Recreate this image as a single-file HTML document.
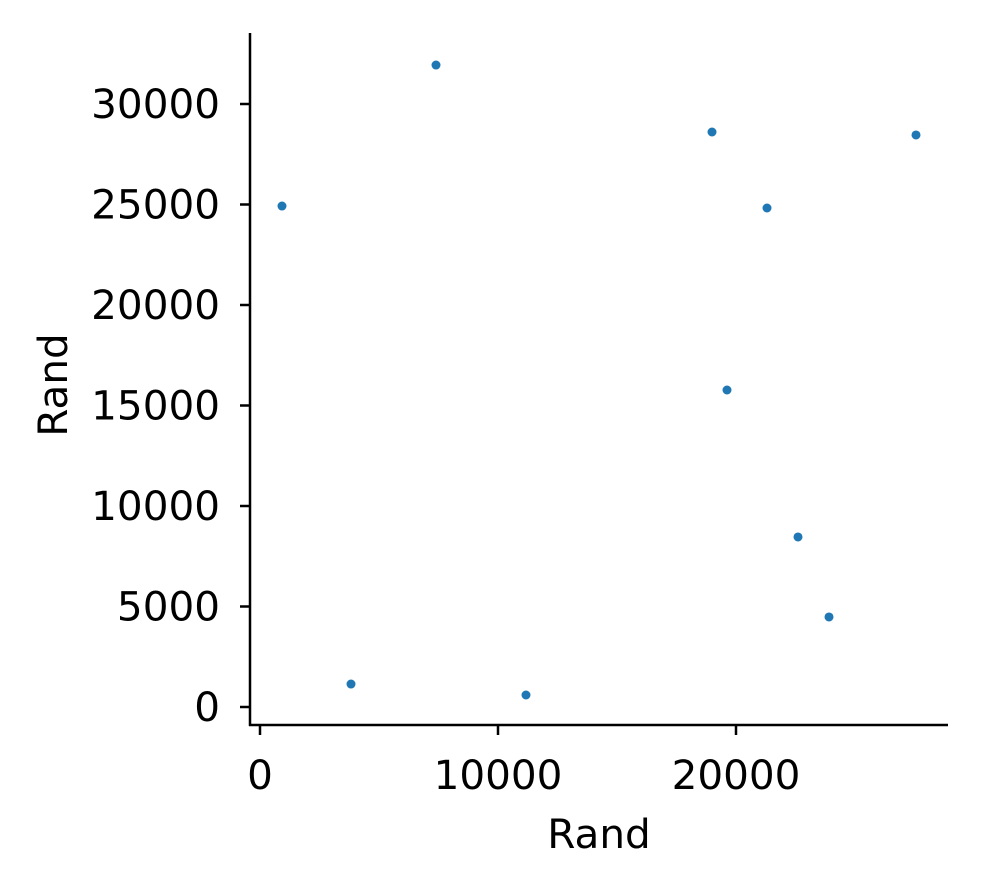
<!DOCTYPE html>
<html><head><meta charset="utf-8"><style>
html,body{margin:0;padding:0;background:#fff;}
svg{display:block;font-family:"DejaVu Sans","Liberation Sans",sans-serif;}
</style></head><body>
<svg id="chart" width="981" height="886" viewBox="0 0 981 886"></svg>
<script>
const xValues = [924, 7395, 3824, 11176, 18992, 19622, 21303, 22605, 23908, 27563];
const yValues = [24925, 31940, 1144, 597, 28607, 15771, 24826, 8458, 4478, 28458];
const xTicks = [0, 10000, 20000];
const yTicks = [0, 5000, 10000, 15000, 20000, 25000, 30000];
const xLabel = "Rand";
const yLabel = "Rand";

const svg = document.getElementById('chart');
const NS = 'http://www.w3.org/2000/svg';
const sx = v => 260 + v * 0.0238;
const sy = v => 707 - v * 0.0201;
function mk(tag, attrs){const e=document.createElementNS(NS,tag);for(const k in attrs)e.setAttribute(k,attrs[k]);svg.appendChild(e);return e;}

const ys = mk('line',{x1:250,y1:33,x2:250,y2:726,stroke:'#000','stroke-width':2.5});


const xs = mk('line',{x1:249,y1:725,x2:948,y2:725,stroke:'#000','stroke-width':2.5});



yTicks.forEach(t=>{
  const y=sy(t);
  const l=mk('line',{x1:240,y1:y,x2:250,y2:y,stroke:'#000','stroke-width':2.5});
  
  
  const tx=mk('text',{x:220,y:y+14,'text-anchor':'end','font-size':'40.5px',fill:'#000'});
  tx.textContent=t;
  
  
});
xTicks.forEach(t=>{
  const x=sx(t);
  const l=mk('line',{x1:x,y1:725,x2:x,y2:735,stroke:'#000','stroke-width':2.5});
  
  
  const tx=mk('text',{x:x,y:789,'text-anchor':'middle','font-size':'40.5px',fill:'#000'});
  tx.textContent=t;
  
  
});
const xl=mk('text',{x:599,y:848,'text-anchor':'middle','font-size':'40.5px',fill:'#000'});
xl.textContent=xLabel;


const yl=mk('text',{x:0,y:0,'text-anchor':'middle','font-size':'40.5px',fill:'#000',transform:'translate(67,385) rotate(-90)'});
yl.textContent=yLabel;



xValues.forEach((v,i)=>{
  const c=mk('circle',{cx:sx(v),cy:sy(yValues[i]),r:4.5,fill:'#1f77b4'});
  
  
});
</script>
</body></html>
